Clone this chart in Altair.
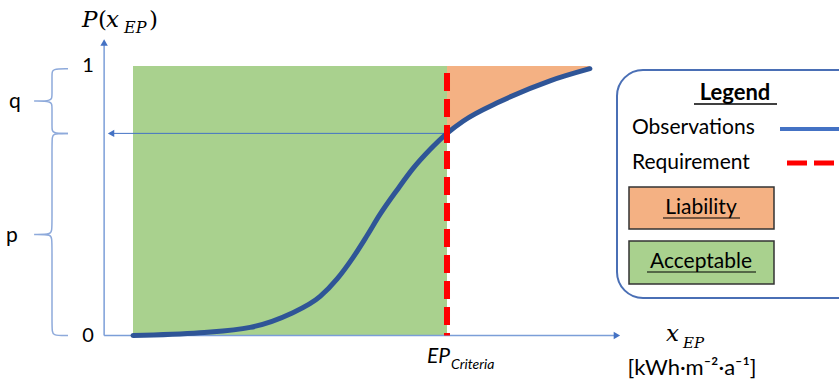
import altair as alt
import pandas as pd

# Cumulative distribution of observed energy performance x_EP
obs_x = [0, 21.3, 37.3, 50.0, 59.6, 65.0, 70.1, 74.5, 78.7, 84.1, 89.2, 94.6,
         100.0, 105.1, 116.9, 132.8, 145.5]
obs_p = [0.0, 0.01, 0.03, 0.08, 0.145, 0.21, 0.29, 0.37, 0.45, 0.54, 0.62, 0.69,
         0.75, 0.795, 0.868, 0.945, 0.99]

ep_criteria = 100.0      # requirement threshold on x_EP
p_criteria = 0.75        # P(x_EP) at the threshold
p_ticks = [0, 1]
p_tick_labels = ["0", "1"]

GREEN = "#A9D18E"
ORANGE = "#F4B183"
CURVE = "#2F5597"
AXIS = "#7B9ED8"
ARROW = "#4472C4"
BRACE = "#8EAADB"
RED = "#FF0000"
SANS = "Lato"
SERIF = "DejaVu Serif"

X_DOMAIN = [-42.36, 224.84]
Y_DOMAIN = [-0.1725, 1.2449]
axis_x = -9.2        # position of the P axis on the x scale
x_axis_end = 155.7
y_axis_end = 1.104

one = pd.DataFrame({"k": [0]})


def X(field):
    return alt.X(f"{field}:Q", scale=alt.Scale(domain=X_DOMAIN, nice=False, zero=False), axis=None)


def Y(field):
    return alt.Y(f"{field}:Q", scale=alt.Scale(domain=Y_DOMAIN, nice=False, zero=False), axis=None)


def note(text, x, y, size, font=SANS, **kw):
    return alt.Chart(one).mark_text(fontSize=size, font=font, **kw).encode(
        x=alt.value(x), y=alt.value(y), text=alt.value(text)
    )


def hline(x1, x2, y, color="black", width=1.5, **kw):
    return alt.Chart(one).mark_rule(color=color, strokeWidth=width, **kw).encode(
        x=alt.value(x1), x2=alt.value(x2), y=alt.value(y)
    )


curve = pd.DataFrame({"x": obs_x, "y": obs_p})

# Acceptable region: everything left of the criterion
accept = pd.DataFrame({"x": [obs_x[0]], "x2": [ep_criteria], "y": [0.0], "y2": [1.0]})
accept_layer = alt.Chart(accept).mark_rect(color=GREEN).encode(
    x=X("x"), x2=alt.X2("x2"), y=Y("y"), y2=alt.Y2("y2")
)

# Liability region: between the curve and 1 beyond the criterion
liab = curve[curve["x"] >= ep_criteria].assign(top=1.0)
liab_layer = alt.Chart(liab).mark_area(color=ORANGE, interpolate="monotone").encode(
    x=X("x"), y=Y("y"), y2=alt.Y2("top")
)

# Axes with arrow heads
axes = pd.DataFrame({
    "x": [axis_x, axis_x], "x2": [axis_x, x_axis_end - 2.0],
    "y": [0.0, 0.0], "y2": [y_axis_end - 0.02, 0.0],
})
axes_layer = alt.Chart(axes).mark_rule(color=AXIS, strokeWidth=1.5).encode(
    x=X("x"), x2=alt.X2("x2"), y=Y("y"), y2=alt.Y2("y2")
)
heads = pd.DataFrame({
    "x": [axis_x, x_axis_end - 1.6, axis_x + 2.2],
    "y": [y_axis_end - 0.017, 0.0, p_criteria],
    "shape": ["triangle-up", "triangle-right", "triangle-left"],
})
heads_layer = alt.Chart(heads).mark_point(filled=True, opacity=1, color=ARROW, size=55).encode(
    x=X("x"), y=Y("y"), shape=alt.Shape("shape:N", scale=None)
)

# Read-off arrow from the curve at the criterion back to the P axis
readoff = pd.DataFrame({"x": [axis_x + 2.2], "x2": [ep_criteria], "y": [p_criteria]})
readoff_layer = alt.Chart(readoff).mark_rule(color=ARROW, strokeWidth=1).encode(
    x=X("x"), x2=alt.X2("x2"), y=Y("y")
)

curve_layer = alt.Chart(curve).mark_line(
    color=CURVE, strokeWidth=5, interpolate="monotone", strokeCap="round"
).encode(x=X("x"), y=Y("y"))

# Requirement line
req = pd.DataFrame({"x": [ep_criteria], "y": [1.0], "y2": [0.0]})
req_layer = alt.Chart(req).mark_rule(
    color=RED, strokeWidth=6, strokeDash=[18, 8], strokeDashOffset=19
).encode(x=X("x"), y=Y("y"), y2=alt.Y2("y2"))


# Curly braces marking p and q
def brace(lo, hi, name):
    mid = (lo + hi) / 2
    e, v, t = -20.7, -25.8, -31.5
    k = 0.02
    pts = [(e, hi), (v, hi), (v, hi - k), (v, mid + k), (v, mid),
           (t, mid), (t, mid), (t, mid),
           (v, mid), (v, mid - k), (v, lo + k), (v, lo), (e, lo)]
    return pd.DataFrame({"x": [a for a, _ in pts], "y": [b for _, b in pts],
                         "i": range(len(pts)), "b": name})


braces = pd.concat([brace(p_criteria, 0.99, "q"), brace(0.0, p_criteria, "p")])
brace_layer = alt.Chart(braces).mark_line(
    color=BRACE, strokeWidth=1.5, interpolate="basis"
).encode(x=X("x"), y=Y("y"), detail="b:N", order="i:Q")

brace_labels = pd.DataFrame({
    "x": [-37.6, -38.6],
    "y": [(p_criteria + 1) / 2, p_criteria / 2],
    "t": ["q", "p"],
})
brace_text = alt.Chart(brace_labels).mark_text(
    fontSize=21, font=SANS, dy=2
).encode(x=X("x"), y=Y("y"), text="t:N")

ticks = pd.DataFrame({"x": [-14.3, -14.3], "y": p_ticks, "t": p_tick_labels,
                      "off": [-3, 7]})
tick_text = alt.Chart(ticks).mark_text(fontSize=20, font=SANS).encode(
    x=X("x"), y=Y("y"), text="t:N", yOffset=alt.YOffset("off:Q", scale=None)
)

crit = pd.DataFrame({"x": [ep_criteria], "y": [0.0]})
crit_main = alt.Chart(crit).mark_text(
    text="EP", fontSize=21, font=SANS, fontStyle="italic", align="right", dx=3, dy=21
).encode(x=X("x"), y=Y("y"))
crit_sub = alt.Chart(crit).mark_text(
    text="Criteria", fontSize=14, font=SANS, fontStyle="italic", align="left", dx=4, dy=29
).encode(x=X("x"), y=Y("y"))

titles = [
    note("P", 82, 27, 23, SERIF, fontStyle="italic", align="left", baseline="alphabetic"),
    note("(", 98, 27, 23, SERIF, align="left", baseline="alphabetic"),
    note("x", 106, 27, 23, SERIF, fontStyle="italic", align="left", baseline="alphabetic"),
    note("EP", 124, 33, 16, SERIF, fontStyle="italic", align="left", baseline="alphabetic"),
    note(")", 149, 27, 23, SERIF, align="left", baseline="alphabetic"),
    note("x", 666, 341, 23, SERIF, fontStyle="italic", align="left", baseline="alphabetic"),
    note("EP", 683, 348, 15, SERIF, fontStyle="italic", align="left", baseline="alphabetic"),
    note("[kWh·m⁻²·a⁻¹]", 692, 375, 22, SANS, align="center", baseline="alphabetic"),
]

# Legend panel
legend = [
    alt.Chart(one).mark_rect(
        fill="white", stroke="#4A6FB5", strokeWidth=2, cornerRadius=26
    ).encode(x=alt.value(617), x2=alt.value(880), y=alt.value(70), y2=alt.value(298)),
    note("Legend", 735, 93, 22, fontWeight="bold", align="center", baseline="middle"),
    hline(694, 777, 104, width=1.5),
    note("Observations", 632, 128, 21, align="left", baseline="middle"),
    hline(780, 845, 129, color=ARROW, width=4),
    note("Requirement", 632, 163, 21, align="left", baseline="middle"),
    hline(781, 845, 163, color=RED, width=5, strokeDash=[20, 7], strokeDashOffset=-6),
    alt.Chart(one).mark_rect(fill=ORANGE, stroke="#333333", strokeWidth=1.5).encode(
        x=alt.value(629), x2=alt.value(774), y=alt.value(187), y2=alt.value(229)),
    note("Liability", 701, 208, 21, align="center", baseline="middle"),
    hline(663, 740, 218, width=1.2),
    alt.Chart(one).mark_rect(fill=GREEN, stroke="#333333", strokeWidth=1.5).encode(
        x=alt.value(629), x2=alt.value(774), y=alt.value(241), y2=alt.value(284)),
    note("Acceptable", 701, 262, 21, align="center", baseline="middle"),
    hline(647, 756, 272, width=1.2),
]

chart = alt.layer(
    accept_layer, liab_layer, axes_layer, readoff_layer, curve_layer, req_layer,
    heads_layer, brace_layer, brace_text, tick_text, crit_main, crit_sub,
    *titles, *legend,
).properties(
    width=839, height=382, autosize="none", padding=0
).configure_view(stroke=None)

chart.save("out.html", embed_options={"renderer": "svg", "actions": False})
